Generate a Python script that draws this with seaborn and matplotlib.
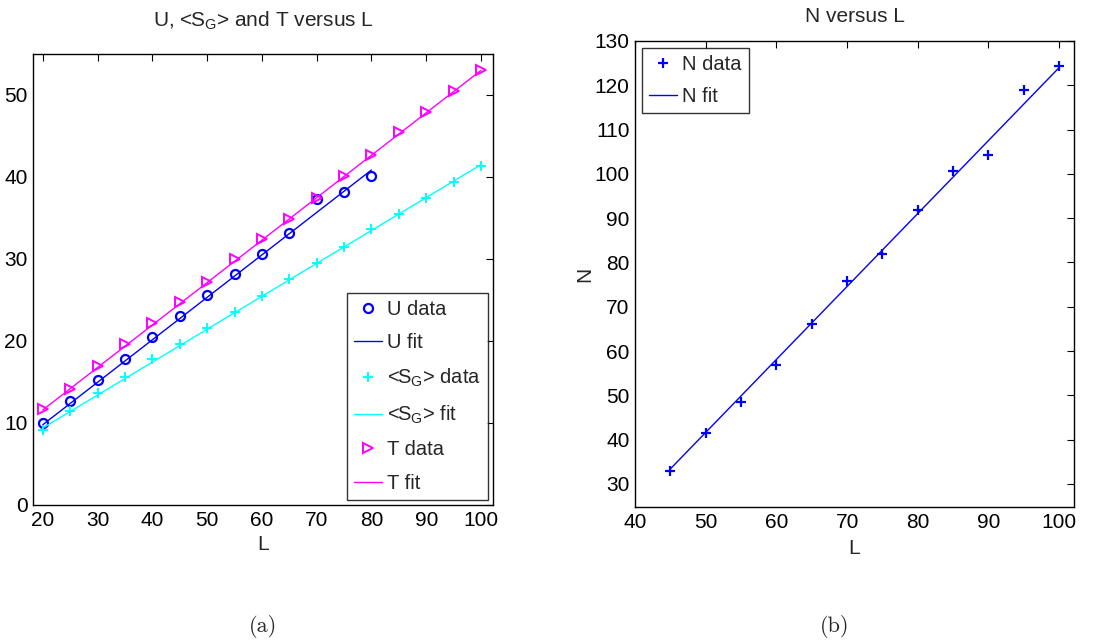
import numpy as np
import pandas as pd
import matplotlib
matplotlib.use("Agg")
import matplotlib.pyplot as plt
import seaborn as sns

# ---- data ----
L_u = [20, 25, 30, 35, 40, 45, 50, 55, 60, 65, 70, 75, 80]
U_data = [10.0, 12.7, 15.3, 17.85, 20.45, 23.05, 25.6, 28.2, 30.6, 33.2, 37.35, 38.2, 40.1]
L_u_fit = [20, 80]
U_fit = [9.8, 40.85]

L_s = [20, 25, 30, 35, 40, 45, 50, 55, 60, 65, 70, 75, 80, 85, 90, 95, 100]
S_data = [9.15, 11.45, 13.6, 15.6, 17.8, 19.6, 21.6, 23.5, 25.5, 27.55, 29.5, 31.45, 33.6, 35.5, 37.4, 39.4, 41.4]
L_s_fit = [20, 100]
S_fit = [9.4, 41.5]

L_t = [20, 25, 30, 35, 40, 45, 50, 55, 60, 65, 70, 75, 80, 85, 90, 95, 100]
T_data = [11.7, 14.2, 16.95, 19.6, 22.15, 24.7, 27.2, 30.0, 32.45, 34.9, 37.4, 40.1, 42.7, 45.5, 47.9, 50.5, 53.0]
L_t_fit = [20, 100]
T_fit = [11.6, 53.0]

L_n = [45, 50, 55, 60, 65, 70, 75, 80, 85, 90, 95, 100]
N_data = [33.0, 41.4, 48.4, 56.9, 66.0, 75.75, 81.9, 91.9, 100.7, 104.3, 118.9, 124.4]
L_n_fit = [45, 100]
N_fit = [33.4, 124.0]

left_xticks = [20, 30, 40, 50, 60, 70, 80, 90, 100]
left_yticks = [0, 10, 20, 30, 40, 50]
right_xticks = [40, 50, 60, 70, 80, 90, 100]
right_yticks = [30, 40, 50, 60, 70, 80, 90, 100, 110, 120, 130]

sns.set_style("white")
plt.rcParams["font.family"] = ["Liberation Sans", "DejaVu Sans"]
plt.rcParams["mathtext.default"] = "regular"
plt.rcParams["xtick.direction"] = "in"
plt.rcParams["ytick.direction"] = "in"

BLUE = "#0000ff"
CYAN = "#00ffff"
MAG = "#ff00ff"

W, H = 1119, 641
fig = plt.figure(figsize=(W / 100, H / 100), dpi=100)

def px_axes(l, t, r, b):
    return fig.add_axes([l / W, (H - b) / H, (r - l) / W, (b - t) / H])

ax1 = px_axes(33, 54, 493, 505)
ax2 = px_axes(635, 41, 1074, 507)

FS = 15
LFS = 14.5

# ---- left panel ----
sns.lineplot(x=L_u, y=U_data, ax=ax1, linestyle="none", marker="o", markersize=6.5,
             markerfacecolor="none", markeredgecolor=BLUE, markeredgewidth=1.6,
             color=BLUE, label="U data")
sns.lineplot(x=L_u_fit, y=U_fit, ax=ax1, color=BLUE, linewidth=1.0, label="U fit")
sns.lineplot(x=L_s, y=S_data, ax=ax1, linestyle="none", marker="+", markersize=6.5,
             markeredgecolor=CYAN, markeredgewidth=1.4, color=CYAN, label="<S$_G$> data")
sns.lineplot(x=L_s_fit, y=S_fit, ax=ax1, color=CYAN, linewidth=1.0, label="<S$_G$> fit")
sns.lineplot(x=L_t, y=T_data, ax=ax1, linestyle="none", marker=">", markersize=6.5,
             markerfacecolor="none", markeredgecolor=MAG, markeredgewidth=1.4,
             color=MAG, label="T data")
sns.lineplot(x=L_t_fit, y=T_fit, ax=ax1, color=MAG, linewidth=1.0, label="T fit")

ax1.set_xlim(18.2, 102.2)
ax1.set_ylim(0, 55)
ax1.set_xticks(left_xticks)
ax1.set_yticks(left_yticks)
ax1.set_title("U, <S$_G$> and T versus L", fontsize=FS, pad=19.5)
ax1.set_xlabel("L", fontsize=FS, labelpad=4)
ax1.set_ylabel("")
leg1 = ax1.legend(loc="lower right", fontsize=LFS, frameon=True, fancybox=False,
                  edgecolor="black", borderaxespad=0.25, handlelength=1.4,
                  labelspacing=0.72, handletextpad=0.25, borderpad=0.35)
leg1.get_frame().set_linewidth(1.0)

# ---- right panel ----
sns.lineplot(x=L_n, y=N_data, ax=ax2, linestyle="none", marker="+", markersize=7.5,
             markeredgecolor=BLUE, markeredgewidth=1.6, color=BLUE, label="N data")
sns.lineplot(x=L_n_fit, y=N_fit, ax=ax2, color=BLUE, linewidth=1.0, label="N fit")
ax2.set_xlim(40, 102.1)
ax2.set_ylim(24.8, 130)
ax2.set_xticks(right_xticks)
ax2.set_yticks(right_yticks)
ax2.set_title("N versus L", fontsize=FS, pad=13.5)
ax2.set_xlabel("L", fontsize=FS, labelpad=5)
ax2.set_ylabel("N", fontsize=FS, labelpad=0)
leg2 = ax2.legend(loc="upper left", fontsize=LFS, frameon=True, fancybox=False,
                  edgecolor="black", borderaxespad=0.35, handlelength=1.4,
                  labelspacing=0.62, handletextpad=0.25, borderpad=0.35)
leg2.get_frame().set_linewidth(1.0)

for ax in (ax1, ax2):
    ax.tick_params(axis="both", which="both", direction="in", top=True, right=True,
                   labelsize=FS, length=5, width=0.8, colors="black", pad=4)
    for s in ax.spines.values():
        s.set_visible(True)
        s.set_color("black")
        s.set_linewidth(1.0)

fig.text(263 / W, 1 - 627 / H, "(a)", ha="center", va="center", fontsize=16,
         family=["cmr10", "DejaVu Serif"])
fig.text(835 / W, 1 - 627 / H, "(b)", ha="center", va="center", fontsize=16,
         family=["cmr10", "DejaVu Serif"])

fig.savefig("out.png", dpi=100)
